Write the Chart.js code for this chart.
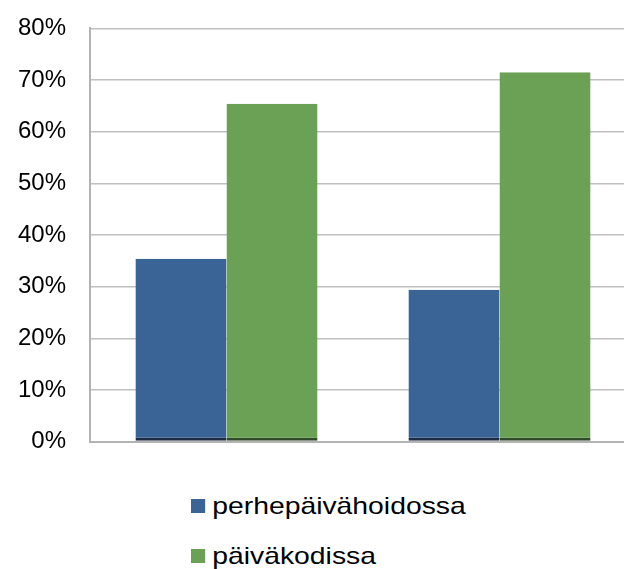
<!DOCTYPE html>
<html>
<head>
<meta charset="utf-8">
<script src="https://cdn.jsdelivr.net/npm/chart.js@4"></script>
<style>
    body { margin: 0; overflow: hidden; background: #fff; font-family: "Liberation Sans", Arial, sans-serif; }
    #wrap { position: relative; width: 636px; height: 490px; margin-top: -10px; }
    #legend { position: absolute; left: 191px; top: 488px; transform: scaleX(1.18); transform-origin: left top; }
    .item { display: flex; align-items: center; height: 36px; margin-bottom: 14px; font-size: 24px; color: #000; }
    .box { width: 12px; height: 14px; margin-right: 6px; }
</style>
</head>
<body>
<div id="wrap"><canvas id="chart" width="636" height="490"></canvas></div>
<div id="legend"></div>
<script>
(function() {
    'use strict';

    // Chart data
    const categories = ['', ''];
    const seriesNames = ['perhepäivähoidossa', 'päiväkodissa'];
    const familyCare = [35.4, 29.4];
    const daycare = [65.4, 71.5];
    const yTicks = [0, 10, 20, 30, 40, 50, 60, 70, 80];

    const colors = ['#3b6496', '#6aa155'];
    const shadows = ['#1d2c42', '#2f4a26'];

    const ctx = document.getElementById('chart').getContext('2d');

    const chart = new Chart(ctx, {
        type: 'bar',
        data: {
            labels: categories,
            datasets: [familyCare, daycare].map((values, i) => ({
                label: seriesNames[i],
                data: values,
                backgroundColor: colors[i],
                borderColor: shadows[i],
                borderWidth: { top: 0, left: 0, right: 0, bottom: 3 },
                borderSkipped: false,
                categoryPercentage: 0.667,
                barPercentage: 1
            }))
        },
        options: {
            responsive: false,
            animation: false,
            layout: { padding: { top: 18, right: 0, bottom: 0, left: 0 } },
            plugins: {
                legend: { display: false },
                tooltip: { enabled: false }
            },
            scales: {
                x: {
                    ticks: { display: false },
                    grid: { display: false, drawTicks: false },
                    border: { color: '#b3b3b3', width: 2 }
                },
                y: {
                    min: 0,
                    max: 80,
                    afterBuildTicks: axis => {
                        axis.ticks = yTicks.map(v => ({ value: v }));
                    },
                    afterFit: axis => { axis.width = 90; },
                    ticks: {
                        autoSkip: false,
                        callback: v => v + '%',
                        color: '#000',
                        padding: 24,
                        font: { family: '"Liberation Sans", Arial, sans-serif', size: 24 }
                    },
                    grid: { color: '#c0c0c0', lineWidth: 1.5, drawTicks: false },
                    border: { color: '#b3b3b3', width: 2 }
                }
            }
        }
    });

    // Vertical legend below the chart
    const legend = document.getElementById('legend');
    chart.data.datasets.forEach(ds => {
        const item = document.createElement('div');
        item.className = 'item';
        const box = document.createElement('span');
        box.className = 'box';
        box.style.background = ds.backgroundColor;
        const text = document.createElement('span');
        text.textContent = ds.label;
        item.appendChild(box);
        item.appendChild(text);
        legend.appendChild(item);
    });
})();
</script>
</body>
</html>
